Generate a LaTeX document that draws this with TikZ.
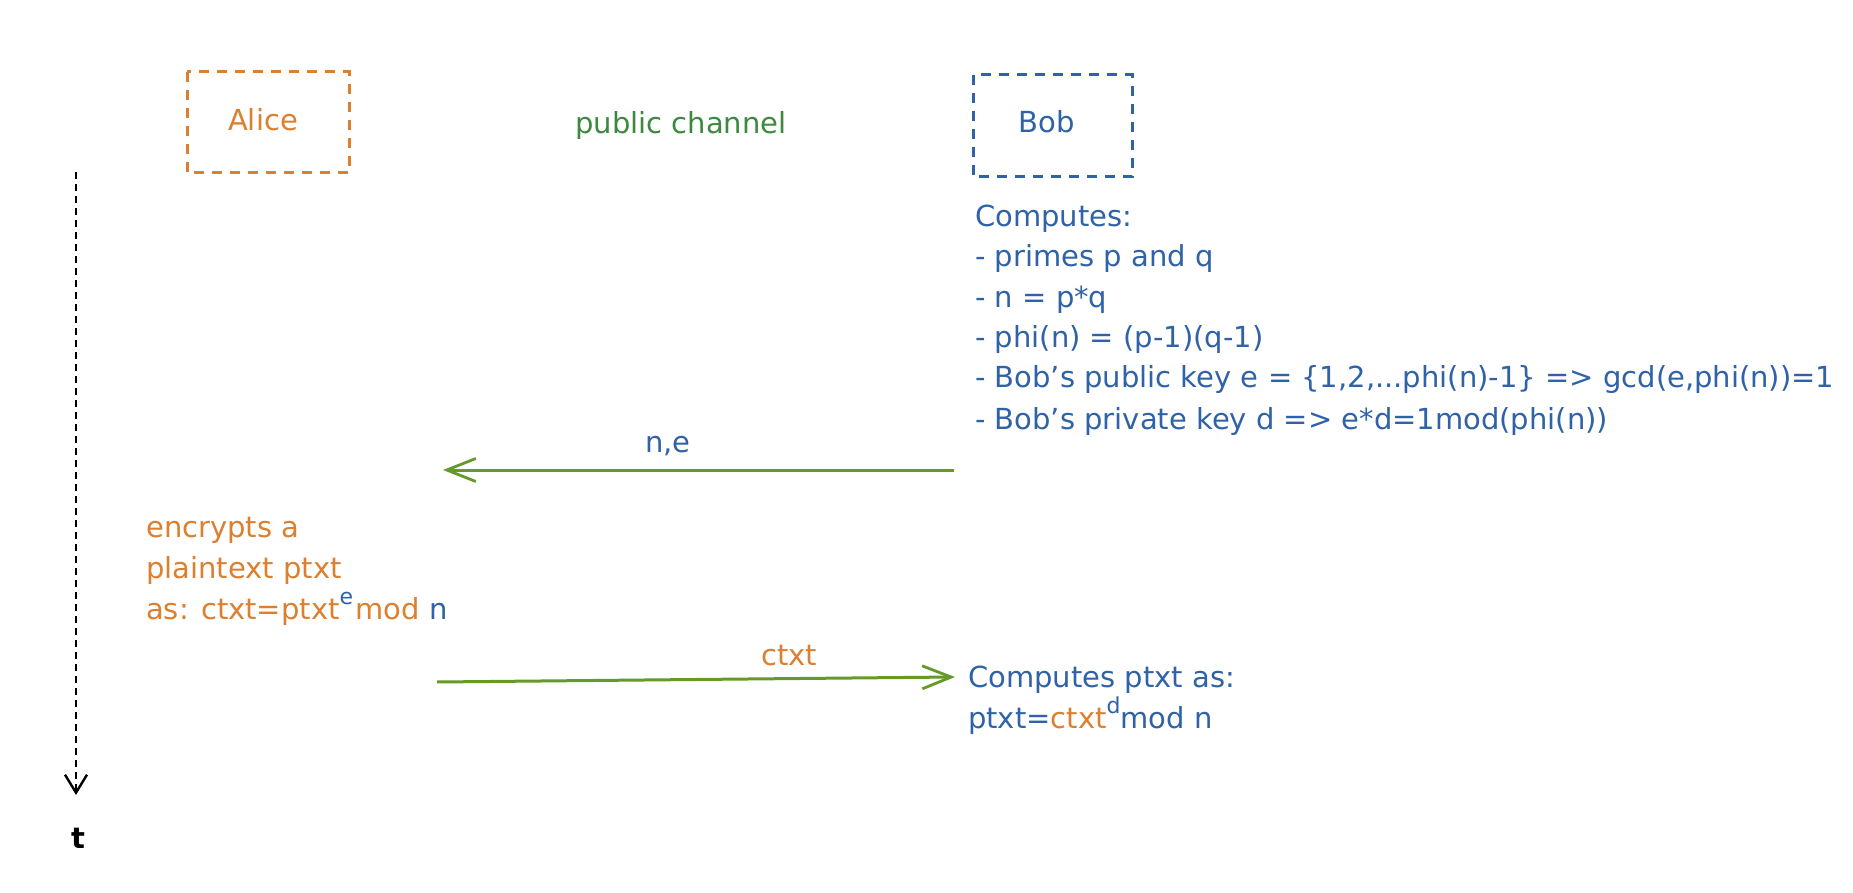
\documentclass[tikz,border=0pt]{standalone}
\usepackage{fontspec}
\setmainfont{DejaVu Sans}
\usetikzlibrary{arrows.meta}
\definecolor{aorange}{HTML}{DC7F2F}
\definecolor{bblue}{HTML}{2F62A6}
\definecolor{chgreen}{HTML}{3D8A3F}
\definecolor{argreen}{HTML}{659A27}
\newcommand{\supx}[2]{\raisebox{15pt}{\fontsize{22}{22}\selectfont\color{#1}#2}}
\begin{document}
\begin{tikzpicture}[x=1pt,y=-1pt,
  txt/.style={inner sep=0pt, anchor=base west, font=\fontsize{29}{36}\selectfont},
  ctxt/.style={inner sep=0pt, anchor=center, font=\fontsize{29}{36}\selectfont},
  partybox/.style={line width=3pt, dash pattern=on 10pt off 8pt},
  msg/.style={draw=argreen, line width=3pt, -{Straight Barb[length=29pt,width=23pt,line width=2.8pt]}},
  timeaxis/.style={draw=black, line width=2.4pt, dash pattern=on 7pt off 5pt, -{Straight Barb[length=18pt,width=22pt,line width=2.4pt]}}]
\useasboundingbox (0,0) rectangle (1853,893);
\fill[white] (0,0) rectangle (1853,893);
% parties
\draw[partybox, draw=aorange] (187,72) rectangle (349,173);
\node[ctxt, text=aorange] (alice) at (263,120) {Alice};
\draw[partybox, draw=bblue] (973,75) rectangle (1132,177);
\node[ctxt, text=bblue] (bob) at (1047,122) {Bob};
\node[ctxt, text=chgreen] (channel) at (681,126) {public channel};
% Bob computes
\node[txt, text=bblue] (b1) at (975,227) {Computes:};
\node[txt, text=bblue] (b2) at (975,267) {- primes p and q};
\node[txt, text=bblue] (b3) at (975,308) {- n = p*q};
\node[txt, text=bblue] (b4) at (975,348) {- phi(n) = (p-1)(q-1)};
\node[txt, text=bblue] (b5) at (975,388) {- Bob's public key e = \{1,2,...phi(n)-1\} => gcd(e,phi(n))=1};
\node[txt, text=bblue] (b6) at (975,429) {- Bob's private key d => e*d=1mod(phi(n))};
% n,e message
\coordinate (ne-start) at (954,470);
\coordinate (ne-end) at (443,470);
\draw[msg] (ne-start) -- (ne-end);
\node[ctxt, text=bblue] (nelabel) at (668,446) {n,e};
% Alice encrypts
\node[txt, text=aorange] (a1) at (146,537) {encrypts a};
\node[txt, text=aorange] (a2) at (146,578) {plaintext ptxt};
\node[txt, text=aorange] (a3) at (146,619) {as: ctxt=ptxt\supx{bblue}{e}\hspace{2pt}mod\hspace{10pt}\textcolor{bblue}{n}};
% ctxt message
\coordinate (c-start) at (437,682);
\coordinate (c-end) at (955,677);
\draw[msg] (c-start) -- (c-end);
\node[ctxt, text=aorange] (clabel) at (789,656) {ctxt};
% Bob decrypts
\node[txt, text=bblue] (d1) at (968,687) {Computes ptxt as:};
\node[txt, text=bblue] (d2) at (968,728) {ptxt=\textcolor{aorange}{ctxt}\supx{bblue}{d}mod n};
% time axis
\coordinate (t-start) at (76,172);
\node[ctxt, text=black, font=\fontsize{29}{36}\selectfont\bfseries] (tlabel) at (78,838) {t};
\draw[timeaxis] (t-start) -- (76,795);
\end{tikzpicture}
\end{document}
